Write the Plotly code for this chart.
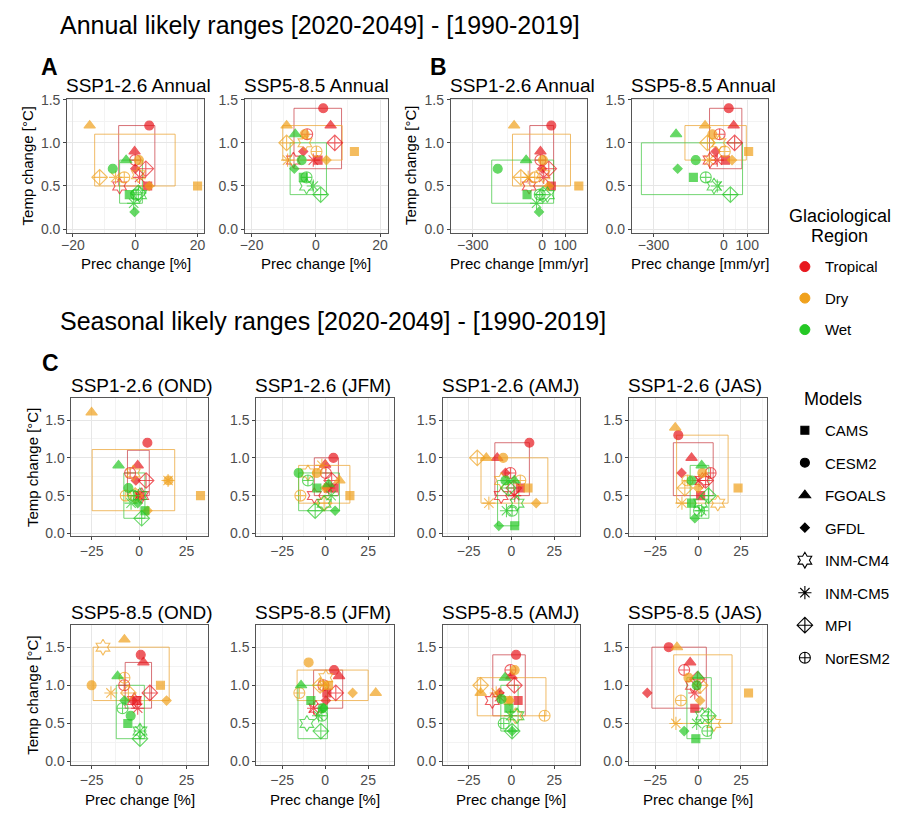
import plotly.graph_objects as go

FONT = "Liberation Sans, Arial, sans-serif"
W, H = 898, 816

MODELS = ["CAMS", "CESM2", "FGOALS", "GFDL", "INM-CM4", "INM-CM5", "MPI", "NorESM2"]
REGIONS = ["Tropical", "Dry", "Wet"]

# Values are listed per region in the MODELS order.
# Likely ranges are [prec_low, prec_high, temp_low, temp_high].

# SSP1-2.6 annual, precipitation in %
ANN126_PCT_PREC = {"Tropical": [4.0, 4.5, -0.2, 0.0, -5.0, 1.4, 3.4, 0.0],
                   "Dry": [20.0, 1.2, -14.6, 4.5, 1.0, -6.3, -11.4, -3.5],
                   "Wet": [-1.9, -7.2, -2.9, -0.2, 1.4, -0.5, 1.0, 0.3]}
ANN126_PCT_TEMP = {"Tropical": [0.5, 1.2, 0.9, 0.7, 0.5, 0.6, 0.7, 0.8],
                   "Dry": [0.5, 0.8, 1.2, 0.5, 0.63, 0.6, 0.6, 0.6],
                   "Wet": [0.4, 0.7, 0.8, 0.2, 0.4, 0.3, 0.42, 0.4]}
ANN126_PCT_RANGE = {"Tropical": [-5.3, 6.3, 0.5, 1.2],
                    "Dry": [-13.0, 12.8, 0.5, 1.1],
                    "Wet": [-5.0, 2.3, 0.3, 0.8]}

# SSP5-8.5 annual, precipitation in %
ANN585_PCT_PREC = {"Tropical": [0.7, 2.3, 4.6, -3.9, -7.0, -0.8, 5.9, -2.7],
                   "Dry": [12.0, -3.5, -9.1, 3.3, -3.4, -8.8, -9.1, 0.2],
                   "Wet": [-3.9, -4.4, -6.4, -6.7, -2.9, -0.8, 1.5, -2.9]}
ANN585_PCT_TEMP = {"Tropical": [0.8, 1.4, 1.2, 0.9, 0.8, 0.8, 1.0, 1.1],
                   "Dry": [0.9, 1.1, 1.2, 0.8, 1.0, 0.8, 1.0, 0.9],
                   "Wet": [0.6, 0.8, 1.1, 0.7, 0.5, 0.5, 0.4, 0.6]}
ANN585_PCT_RANGE = {"Tropical": [-6.8, 8.0, 0.7, 1.4],
                    "Dry": [-10.3, 8.2, 0.8, 1.2],
                    "Wet": [-8.0, 3.3, 0.4, 1.0]}

# SSP1-2.6 annual, precipitation in mm/yr
ANN126_MM_PREC = {"Tropical": [40, 40, -7, 0, -56, 7, 29, -7],
                  "Dry": [159, 4, -121, 29, 4, -60, -92, -32],
                  "Wet": [-65, -192, -69, -13, 23, -24, 4, -10]}
ANN126_MM_TEMP = {"Tropical": [0.5, 1.2, 0.9, 0.7, 0.5, 0.6, 0.7, 0.8],
                  "Dry": [0.5, 0.8, 1.2, 0.5, 0.63, 0.6, 0.6, 0.6],
                  "Wet": [0.4, 0.7, 0.8, 0.2, 0.4, 0.3, 0.4, 0.4]}
ANN126_MM_RANGE = {"Tropical": [-53, 50, 0.5, 1.2],
                   "Dry": [-128, 123, 0.5, 1.1],
                   "Wet": [-218, 50, 0.3, 0.8]}

# SSP5-8.5 annual, precipitation in mm/yr
ANN585_MM_PREC = {"Tropical": [7, 21, 42, -35, -59, -28, 46, -18],
                  "Dry": [106, -49, -80, 35, -21, -63, -70, 4],
                  "Wet": [-130, -120, -204, -197, -42, -28, 28, -77]}
ANN585_MM_TEMP = {"Tropical": [0.8, 1.4, 1.2, 0.9, 0.8, 0.8, 1.0, 1.1],
                  "Dry": [0.9, 1.1, 1.2, 0.8, 1.0, 0.8, 1.0, 0.9],
                  "Wet": [0.6, 0.8, 1.1, 0.7, 0.5, 0.5, 0.4, 0.6]}
ANN585_MM_RANGE = {"Tropical": [-61, 77, 0.7, 1.4],
                   "Dry": [-166, 96, 0.8, 1.2],
                   "Wet": [-352, 80, 0.4, 1.0]}

# SSP1-2.6 seasonal, precipitation in %
OND126_PREC = {"Tropical": [0.5, 4.4, -0.7, -1.7, 1.4, -0.3, 3.7, -4.7],
               "Dry": [32.4, 15.5, -25.0, 4.5, -3.0, 15.3, -2.0, -7.0],
               "Wet": [3.1, -5.6, -10.8, -0.7, 0.5, -4.2, 1.4, -3.0]}
OND126_TEMP = {"Tropical": [0.5, 1.2, 0.9, 0.7, 0.5, 0.5, 0.7, 0.8],
               "Dry": [0.5, 0.7, 1.6, 0.3, 0.8, 0.7, 0.5, 0.5],
               "Wet": [0.3, 0.6, 0.9, 0.4, 0.5, 0.4, 0.2, 0.5]}
OND126_RANGE = {"Tropical": [-6.1, 5.4, 0.5, 1.1],
                "Dry": [-24.7, 18.8, 0.3, 1.11],
                "Wet": [-8.0, 3.1, 0.2, 0.8]}

JFM126_PREC = {"Tropical": [4.8, 4.8, 0.0, 1.0, -6.3, 2.0, 3.8, 0.4],
               "Dry": [14.4, -4.8, 8.3, 0.0, -10.0, -1.9, -0.6, -14.4],
               "Wet": [-4.8, -15.4, 2.0, 5.8, -0.6, 3.5, -5.8, -10.0]}
JFM126_TEMP = {"Tropical": [0.6, 1.0, 0.91, 0.6, 0.5, 0.6, 0.7, 0.8],
               "Dry": [0.5, 0.8, 0.7, 0.6, 0.8, 0.9, 0.4, 0.5],
               "Wet": [0.6, 0.8, 0.65, 0.3, 0.4, 0.5, 0.3, 0.7]}
JFM126_RANGE = {"Tropical": [-6.3, 7.7, 0.5, 1.0],
                "Dry": [-15.4, 14.4, 0.4, 0.9],
                "Wet": [-15.4, 8.3, 0.3, 0.8]}

AMJ126_PREC = {"Tropical": [5.2, 10.5, -8.3, -3.5, -6.0, 1.9, 1.4, -0.6],
               "Dry": [9.7, -4.8, -14.7, 14.5, -5.8, -13.2, -20.0, 5.2],
               "Wet": [1.9, -3.5, 1.7, -7.4, 3.3, -2.9, -1.9, 0.4]}
AMJ126_TEMP = {"Tropical": [0.6, 1.2, 1.0, 0.8, 0.5, 0.5, 0.6, 0.8],
               "Dry": [0.6, 1.0, 1.0, 0.4, 0.7, 0.4, 1.0, 0.7],
               "Wet": [0.1, 0.7, 0.7, 0.1, 0.4, 0.3, 0.6, 0.3]}
AMJ126_RANGE = {"Tropical": [-9.7, 10.5, 0.5, 1.2],
                "Dry": [-17.8, 21.3, 0.4, 1.0],
                "Wet": [-8.1, 4.3, 0.1, 0.7]}

JAS126_PREC = {"Tropical": [1.5, -11.5, -3.8, -9.6, 2.5, 0.6, 4.4, 7.3],
               "Dry": [23.3, 2.5, -13.3, 0.0, 11.5, -9.4, -7.7, -6.2],
               "Wet": [-3.8, -3.8, 2.1, -1.9, 1.5, 2.1, 6.0, 0.6]}
JAS126_TEMP = {"Tropical": [0.5, 1.3, 1.0, 0.8, 0.7, 0.7, 0.7, 0.8],
               "Dry": [0.6, 0.8, 1.4, 0.6, 0.4, 0.4, 0.6, 0.7],
               "Wet": [0.4, 0.7, 0.9, 0.2, 0.4, 0.3, 0.5, 0.3]}
JAS126_RANGE = {"Tropical": [-14.4, 8.8, 0.5, 1.2],
                "Dry": [-12.5, 17.5, 0.4, 1.3],
                "Wet": [-4.6, 6.3, 0.2, 0.9]}

# SSP5-8.5 seasonal, precipitation in %
OND585_PREC = {"Tropical": [-1.2, 0.9, 2.3, -3.3, -2.5, -0.7, 5.7, -7.8],
               "Dry": [11.3, -25.0, -7.7, 14.5, -19.0, -14.8, -5.6, -7.7],
               "Wet": [-5.9, -4.4, -11.3, -7.7, 0.5, 0.5, 0.5, -8.7]}
OND585_TEMP = {"Tropical": [0.8, 1.4, 1.3, 0.8, 0.8, 0.7, 0.9, 1.0],
               "Dry": [1.0, 1.0, 1.6, 0.8, 1.5, 0.9, 0.9, 1.1],
               "Wet": [0.5, 0.6, 1.12, 0.8, 0.4, 0.4, 0.3, 0.7]}
OND585_RANGE = {"Tropical": [-7.3, 6.6, 0.7, 1.3],
                "Dry": [-24.2, 15.9, 0.8, 1.5],
                "Wet": [-12.0, 2.8, 0.3, 1.0]}

JFM585_PREC = {"Tropical": [1.0, 5.2, 8.1, 0.4, -5.4, -6.7, 6.2, -1.0],
               "Dry": [1.9, -9.6, 29.4, 16.0, 0.4, -1.3, -2.9, -15.0],
               "Wet": [-8.3, -1.5, -14.0, -1.0, -10.6, -3.8, -2.5, -1.9]}
JFM585_TEMP = {"Tropical": [0.9, 1.2, 1.12, 0.8, 0.7, 0.7, 0.9, 1.0],
               "Dry": [1.0, 1.3, 0.9, 0.9, 1.1, 1.0, 1.0, 0.9],
               "Wet": [0.8, 0.7, 1.0, 0.7, 0.5, 0.6, 0.4, 0.6]}
JFM585_RANGE = {"Tropical": [-6.7, 10.2, 0.7, 1.2],
                "Dry": [-16.3, 25.0, 0.8, 1.2],
                "Wet": [-15.8, 1.3, 0.3, 1.0]}

AMJ585_PREC = {"Tropical": [3.9, 2.7, 0.0, -7.0, -11.2, -7.0, 1.7, -0.6],
               "Dry": [-1.9, 1.9, -18.0, -1.0, 2.3, -8.9, -18.0, 19.4],
               "Wet": [-1.5, -5.8, -3.8, 0.4, 3.3, -0.6, 0.4, -4.5]}
AMJ585_TEMP = {"Tropical": [0.8, 1.4, 1.12, 0.9, 0.8, 0.85, 1.0, 1.2],
               "Dry": [0.8, 1.2, 0.9, 0.8, 0.6, 0.9, 1.0, 0.6],
               "Wet": [0.7, 0.82, 1.1, 0.4, 0.6, 0.6, 0.4, 0.5]}
AMJ585_RANGE = {"Tropical": [-10.9, 8.1, 0.6, 1.4],
                "Dry": [-20.0, 20.2, 0.6, 1.1],
                "Wet": [-6.2, 3.9, 0.4, 1.0]}

JAS585_PREC = {"Tropical": [-1.9, -17.1, -4.6, -29.6, -3.3, -1.9, -0.4, -8.1],
               "Dry": [29.4, -5.6, -12.3, 1.2, 9.2, -12.9, 1.2, -10.0],
               "Wet": [-1.3, -0.8, 0.0, -8.1, 2.5, -0.8, 6.0, 5.4]}
JAS585_TEMP = {"Tropical": [0.7, 1.5, 1.3, 0.9, 1.0, 0.9, 1.08, 1.2],
               "Dry": [0.9, 1.1, 1.5, 0.8, 0.5, 0.5, 1.0, 0.8],
               "Wet": [0.3, 1.0, 1.12, 0.4, 0.6, 0.5, 0.6, 0.4]}
JAS585_RANGE = {"Tropical": [-26.9, 4.8, 0.7, 1.5],
                "Dry": [-14.2, 19.8, 0.5, 1.4],
                "Wet": [-6.5, 7.7, 0.3, 1.1]}

# ---------------------------------------------------------------- styling
REGION_COLOR = {"Tropical": "#E8181E", "Dry": "#F0A11C", "Wet": "#25C825"}
RANGE_COLOR = {"Tropical": "rgba(200,60,66,0.72)",
               "Dry": "rgba(236,168,60,0.78)",
               "Wet": "rgba(70,200,70,0.75)"}
MODEL_SYMBOL = {"CAMS": "square", "CESM2": "circle", "FGOALS": "triangle-up",
                "GFDL": "diamond", "INM-CM4": "hexagram-open",
                "INM-CM5": "asterisk-open", "MPI": "diamond-cross-open",
                "NorESM2": "circle-cross-open"}
MODEL_SIZE = {"CAMS": 8, "CESM2": 9, "FGOALS": 10, "GFDL": 7, "INM-CM4": 12,
              "INM-CM5": 11, "MPI": 12, "NorESM2": 11}

ANN_Y = (93.0, 229.5)
ROW2_Y = (397.0, 537.3)
ROW3_Y = (627.3, 769.3)
COL_X = [(66.0, 203.3), (252.3, 391.0), (440.5, 578.3), (628.3, 766.7)]

PCT_TICKS = [-20, 0, 20]
MM_TICKS = [-300, 0, 100]
SEAS_TICKS = [-25, 0, 25]

panels = [
    dict(title="SSP1-2.6 Annual", prec=ANN126_PCT_PREC, temp=ANN126_PCT_TEMP, rng=ANN126_PCT_RANGE,
         px=(61.7, 200.0), py=ANN_Y, xr=[-21.8, 22.2], yr=[-0.046, 1.512], ticks=PCT_TICKS,
         minor=[-10, 10], xtitle="Prec change [%]", ytitle=True, annual=True),
    dict(title="SSP5-8.5 Annual", prec=ANN585_PCT_PREC, temp=ANN585_PCT_TEMP, rng=ANN585_PCT_RANGE,
         px=(240.7, 384.5), py=ANN_Y, xr=[-22.1, 22.3], yr=[-0.046, 1.512], ticks=PCT_TICKS,
         minor=[-10, 10], xtitle="Prec change [%]", ytitle=False, annual=True),
    dict(title="SSP1-2.6 Annual", prec=ANN126_MM_PREC, temp=ANN126_MM_TEMP, rng=ANN126_MM_RANGE,
         px=(448.3, 585.7), py=ANN_Y, xr=[-395, 195], yr=[-0.046, 1.512], ticks=MM_TICKS,
         minor=[-150, 50], xtitle="Prec change [mm/yr]", ytitle=True, annual=True),
    dict(title="SSP5-8.5 Annual", prec=ANN585_MM_PREC, temp=ANN585_MM_TEMP, rng=ANN585_MM_RANGE,
         px=(630.7, 768.3), py=ANN_Y, xr=[-393, 190], yr=[-0.046, 1.512], ticks=MM_TICKS,
         minor=[-150, 50], xtitle="Prec change [mm/yr]", ytitle=False, annual=True),
]

seasonal = [
    ("SSP1-2.6 (OND)", OND126_PREC, OND126_TEMP, OND126_RANGE),
    ("SSP1-2.6 (JFM)", JFM126_PREC, JFM126_TEMP, JFM126_RANGE),
    ("SSP1-2.6 (AMJ)", AMJ126_PREC, AMJ126_TEMP, AMJ126_RANGE),
    ("SSP1-2.6 (JAS)", JAS126_PREC, JAS126_TEMP, JAS126_RANGE),
    ("SSP5-8.5 (OND)", OND585_PREC, OND585_TEMP, OND585_RANGE),
    ("SSP5-8.5 (JFM)", JFM585_PREC, JFM585_TEMP, JFM585_RANGE),
    ("SSP5-8.5 (AMJ)", AMJ585_PREC, AMJ585_TEMP, AMJ585_RANGE),
    ("SSP5-8.5 (JAS)", JAS585_PREC, JAS585_TEMP, JAS585_RANGE),
]
for k, (title, prec, temp, rng) in enumerate(seasonal):
    row, col = divmod(k, 4)
    panels.append(dict(
        title=title, prec=prec, temp=temp, rng=rng,
        px=COL_X[col], py=ROW2_Y if row == 0 else ROW3_Y,
        xr=[-35.6, 36.2] if col == 0 else [-40, 40],
        yr=[-0.04, 1.79] if row == 0 else [-0.045, 1.79],
        ticks=SEAS_TICKS, minor=[-37.5, -12.5, 12.5, 37.5],
        xtitle="Prec change [%]" if row == 1 else None, ytitle=(col == 0),
        annual=False))


def fx(px):
    return px / W


def fy(py):
    return 1 - py / H


def label(text, x, y, size, xanchor="left", angle=0):
    return dict(text=text, xref="paper", yref="paper", x=fx(x), y=fy(y),
                xanchor=xanchor, yanchor="middle", textangle=angle,
                showarrow=False, align="center",
                font=dict(size=size, color="black", family=FONT))


fig = go.Figure()
layout = dict(
    width=W, height=H, margin=dict(l=0, r=0, t=0, b=0),
    paper_bgcolor="white", plot_bgcolor="white",
    font=dict(family=FONT, color="black"),
    showlegend=True,
)
annotations = []
shapes = []

for i, p in enumerate(panels, start=1):
    sfx = "" if i == 1 else str(i)
    xa, ya = "x" + sfx, "y" + sfx
    axis_common = dict(
        showline=True, mirror=True, linecolor="#555555", linewidth=1,
        ticks="outside", ticklen=3, tickwidth=1, tickcolor="#444444",
        tickfont=dict(size=14, color="#4D4D4D", family=FONT),
        showgrid=True, gridcolor="#E6E6E6", gridwidth=1, zeroline=False,
        fixedrange=True,
    )
    layout["xaxis" + sfx] = dict(
        axis_common, domain=[fx(p["px"][0]), fx(p["px"][1])], range=p["xr"],
        tickmode="array", tickvals=p["ticks"], anchor=ya,
        ticklabelstandoff=-4 if p["annual"] else -1,
        minor=dict(tickvals=p["minor"], showgrid=True, gridcolor="#F3F3F3",
                   gridwidth=1, ticks=""),
    )
    layout["yaxis" + sfx] = dict(
        axis_common, domain=[fy(p["py"][1]), fy(p["py"][0])], range=p["yr"],
        tickmode="array", tickvals=[0, 0.5, 1.0, 1.5], tickformat=".1f", anchor=xa,
        minor=dict(tickvals=[0.25, 0.75, 1.25], showgrid=True, gridcolor="#F3F3F3",
                   gridwidth=1, ticks=""),
    )

    # likely-range boxes, one per region
    for reg in REGIONS:
        x0, x1, y0, y1 = p["rng"][reg]
        shapes.append(dict(type="rect", xref=xa, yref=ya, x0=x0, x1=x1, y0=y0, y1=y1,
                           line=dict(color=RANGE_COLOR[reg], width=1),
                           fillcolor="rgba(0,0,0,0)", layer="between"))

    # model points per region
    for reg in REGIONS:
        col = REGION_COLOR[reg]
        fig.add_trace(go.Scatter(
            x=p["prec"][reg], y=p["temp"][reg], mode="markers",
            xaxis=xa, yaxis=ya, showlegend=False, name=reg,
            text=MODELS, hovertemplate="%{text}<br>%{x}, %{y}<extra>" + reg + "</extra>",
            marker=dict(symbol=[MODEL_SYMBOL[m] for m in MODELS],
                        size=[MODEL_SIZE[m] for m in MODELS],
                        color=col, line=dict(color=col, width=1.1)),
        ))

    # panel title and axis titles
    annotations.append(label(p["title"], p["px"][0] - 3, p["py"][0] - 13, 19))
    if p["xtitle"]:
        gap = 30.5 if p["annual"] else 35.5
        annotations.append(label(p["xtitle"], (p["px"][0] + p["px"][1]) / 2,
                                 p["py"][1] + gap, 15, xanchor="center"))
    if p["ytitle"]:
        annotations.append(label("Temp change [°C]", p["px"][0] - 40,
                                 (p["py"][0] + p["py"][1]) / 2, 15,
                                 xanchor="center", angle=-90))

# headings and panel letters
annotations += [
    label("Annual likely ranges [2020-2049] - [1990-2019]", 52, 18, 25),
    label("Seasonal likely ranges [2020-2049] - [1990-2019]", 52, 319, 25),
    label("<b>A</b>", 33, 61, 23),
    label("<b>B</b>", 425, 61, 23),
    label("<b>C</b>", 34, 361, 23),
    # legend headings
    label("Glaciological", 840.5, 212, 18, xanchor="center"),
    label("Region", 840.5, 232, 18, xanchor="center"),
    label("Models", 802, 398, 18),
]

# legend entries
for k, reg in enumerate(REGIONS):
    fig.add_trace(go.Scatter(
        x=[None], y=[None], mode="markers", name=reg, legend="legend",
        legendgroup="r" + str(k), showlegend=True,
        marker=dict(symbol="circle", size=10, color=REGION_COLOR[reg],
                    line=dict(color=REGION_COLOR[reg], width=1))))
for k, m in enumerate(MODELS):
    fig.add_trace(go.Scatter(
        x=[None], y=[None], mode="markers", name=m, legend="legend2",
        legendgroup="m" + str(k), showlegend=True,
        marker=dict(symbol=MODEL_SYMBOL[m], size=MODEL_SIZE[m], color="black",
                    line=dict(color="black", width=1.1))))

legend_common = dict(xanchor="left", yanchor="top", bgcolor="rgba(0,0,0,0)",
                     font=dict(size=15, color="black", family=FONT),
                     itemsizing="trace", itemclick=False, itemdoubleclick=False)
layout["legend"] = dict(legend_common, x=fx(785), y=fy(247), tracegroupgap=9)
layout["legend2"] = dict(legend_common, x=fx(785), y=fy(413), tracegroupgap=10)
layout["annotations"] = annotations
layout["shapes"] = shapes

fig.update_layout(**layout)
fig.write_html("out.html")
